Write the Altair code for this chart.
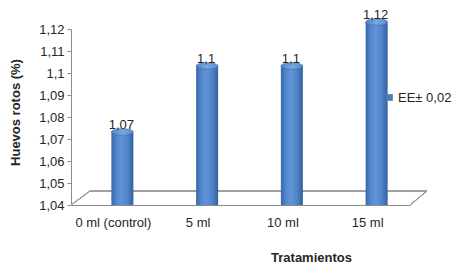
import altair as alt
import pandas as pd

categorias = ["0 ml (control)", "5 ml", "10 ml", "15 ml"]
valores = [1.07, 1.10, 1.10, 1.12]
etiquetas = ["1,07", "1,1", "1,1", "1,12"]
serie = "EE\u00b1 0,02"
y_ticks = [1.04, 1.05, 1.06, 1.07, 1.08, 1.09, 1.10, 1.11, 1.12]
y_min, y_max = 1.04, 1.12

df = pd.DataFrame({"cat": categorias, "val": valores, "lab": etiquetas, "serie": [serie] * 4})

W, H = 339, 176
FONT = "Liberation Sans"
TXT = "#262626"
AXC = "#8c8c8c"

grad_body = alt.LinearGradient(
    gradient="linear", x1=0, x2=1, y1=0, y2=0,
    stops=[
        alt.GradientStop(color="#3867a8", offset=0),
        alt.GradientStop(color="#5489cf", offset=0.25),
        alt.GradientStop(color="#5f94d9", offset=0.45),
        alt.GradientStop(color="#4f83c6", offset=0.75),
        alt.GradientStop(color="#335f9c", offset=1),
    ],
)
grad_top = alt.LinearGradient(
    gradient="linear", x1=0, x2=1, y1=0, y2=0,
    stops=[
        alt.GradientStop(color="#5283c4", offset=0),
        alt.GradientStop(color="#7aa7e2", offset=0.5),
        alt.GradientStop(color="#5a8ad0", offset=1),
    ],
)

ELLIPSE = "M-1,0A1,0.3,0,1,1,1,0A1,0.3,0,1,1,-1,0Z"
DX, DY = 9, -7

x_enc = alt.X(
    "cat:N", sort=categorias,
    scale=alt.Scale(paddingInner=0, paddingOuter=0),
    axis=alt.Axis(
        title="Tratamientos", titleFont=FONT, titleFontSize=13, titleFontWeight="bold",
        titleColor=TXT, titleX=240, titleY=52, titleAlign="center", titleBaseline="middle",
        labelFont=FONT, labelFontSize=13, labelColor=TXT, labelAngle=0, labelPadding=11,
        ticks=False, domainColor=AXC, domainWidth=1,
    ),
)
y_scale = alt.Scale(domain=[y_min, y_max], nice=False, zero=False)
y_axis = alt.Axis(
    title="Huevos rotos (%)", titleFont=FONT, titleFontSize=13, titleFontWeight="bold",
    titleColor=TXT, titleX=-56, titleY=83, titleAlign="center", titleBaseline="middle",
    titleAngle=270,
    values=y_ticks, labelExpr="replace(format(datum.value, '.2~f'), '.', ',')",
    labelOverlap=False, labelFlush=False,
    labelFont=FONT, labelFontSize=13, labelColor=TXT, labelPadding=3,
    tickSize=4, tickColor=AXC, domainColor=AXC, grid=False,
)
y_val = alt.Y("val:Q", scale=y_scale, axis=y_axis)
y_base = alt.datum(y_min, scale=y_scale, axis=y_axis)

base = alt.Chart(df)

floor_back = base.mark_rule(color="#9a9a9a", strokeWidth=1, yOffset=-14).encode(
    x=alt.value(19), x2=alt.value(W + 17), y=y_base
)
floor_left = base.mark_rule(color="#9a9a9a", strokeWidth=1, y2Offset=-14).encode(
    x=alt.value(0), x2=alt.value(19), y=y_base, y2=alt.datum(y_min)
)
floor_right = base.mark_rule(color="#9a9a9a", strokeWidth=1, y2Offset=-14).encode(
    x=alt.value(W), x2=alt.value(W + 17), y=y_base, y2=alt.datum(y_min)
)

bottoms = base.mark_point(shape=ELLIPSE, size=484, filled=True, fill=grad_body,
                          opacity=1, strokeWidth=0, xOffset=DX, yOffset=DY).encode(
    x=x_enc, y=y_base
)
bars = base.mark_bar(size=22, fill=grad_body, xOffset=DX, yOffset=DY).encode(
    x=x_enc, y=y_val, y2=alt.datum(y_min),
    color=alt.Color("serie:N", scale=alt.Scale(range=["#4a7ebb"]),
                    legend=alt.Legend(title=None, orient="none", legendX=312, legendY=62,
                                      symbolType="square", symbolSize=45, symbolStrokeWidth=0,
                                      labelFont=FONT, labelFontSize=13, labelColor=TXT,
                                      labelOffset=2)),
)
tops = base.mark_point(shape=ELLIPSE, size=484, filled=True, fill=grad_top, opacity=1,
                       stroke="#3a6aa8", strokeWidth=0.6, xOffset=DX, yOffset=DY).encode(
    x=x_enc, y=y_val
)
labels = base.mark_text(font=FONT, fontSize=13, color=TXT, baseline="middle",
                        xOffset=DX - 1, yOffset=DY - 7).encode(
    x=x_enc, y=y_val, text="lab:N"
)

chart = alt.layer(floor_back, floor_left, floor_right, bottoms, bars, tops, labels).properties(
    width=W, height=H,
    autosize=alt.AutoSizeParams(type="none"),
    padding={"left": 63, "top": 21, "right": 43, "bottom": 59},
).configure(background="white", view=alt.ViewConfig(stroke="transparent", strokeWidth=0))

chart.save("out.html", embed_options={"renderer": "svg", "actions": False})
